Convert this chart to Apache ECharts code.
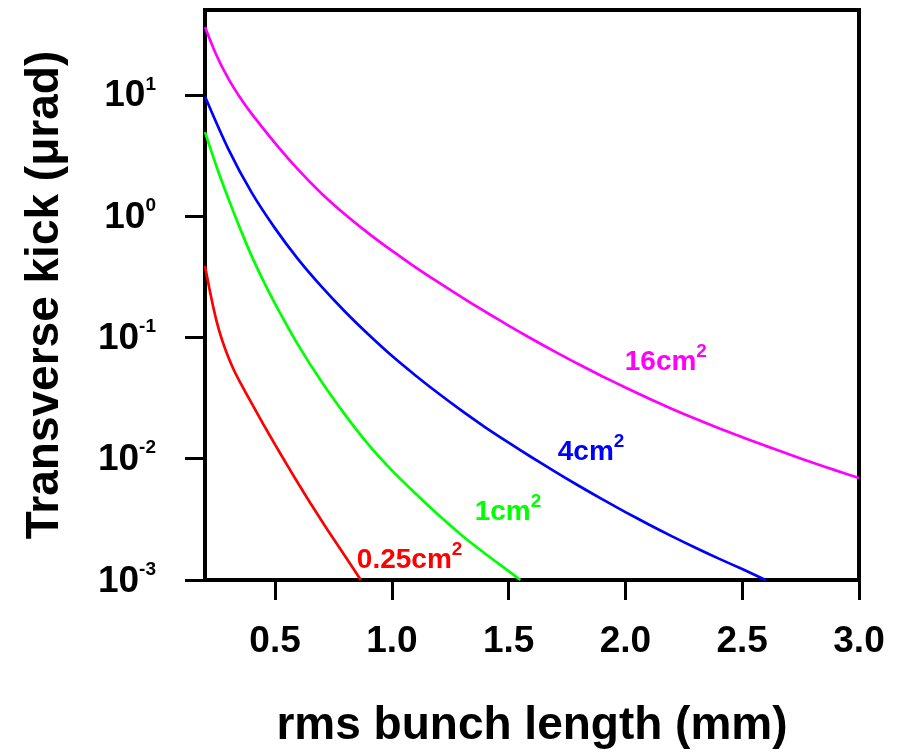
<!DOCTYPE html>
<html>
<head>
<meta charset="utf-8">
<script src="https://cdn.jsdelivr.net/npm/echarts@6/dist/echarts.min.js"></script>
<style>html,body{margin:0;padding:0;background:#fff;}#c{width:902px;height:754px;}</style>
</head>
<body>
<div id="c"></div>
<script>
// ---- data ----
const xTicks = [0.5, 1.0, 1.5, 2.0, 2.5, 3.0];
const yTicks = [0.001, 0.01, 0.1, 1, 10];

const sigma16 = [0.2, 0.25, 0.3, 0.35, 0.4, 0.5, 0.6, 0.7, 0.8, 0.9, 1.0, 1.1, 1.2, 1.3, 1.4, 1.5, 1.6, 1.7, 1.8, 1.9, 2.0, 2.1, 2.2, 2.3, 2.4, 2.5, 2.6, 2.7, 2.8, 2.9, 3.0];
const kick16  = [36.2, 20.96, 13.59, 9.50, 6.97, 4.00, 2.404, 1.530, 1.031, 0.7206, 0.5184, 0.3800, 0.2838, 0.2139, 0.1628, 0.1251, 0.0970, 0.0760, 0.0600, 0.0479, 0.0386, 0.03135, 0.02573, 0.02132, 0.01782, 0.01505, 0.01276, 0.01088, 0.0093, 0.00801, 0.00692];

const sigma4 = [0.2, 0.3, 0.4, 0.5, 0.6, 0.7, 0.8, 0.9, 1.0, 1.1, 1.2, 1.3, 1.4, 1.5, 1.6, 1.7, 1.8, 1.9, 2.0, 2.1, 2.2, 2.3, 2.4, 2.5, 2.6];
const kick4  = [9.68, 3.57, 1.560, 0.792, 0.4375, 0.2607, 0.1628, 0.1056, 0.0705, 0.0488, 0.03445, 0.02478, 0.01816, 0.01357, 0.01023, 0.00779, 0.00598, 0.00464, 0.00363, 0.00287, 0.00229, 0.001844, 0.0015, 0.00123, 0.001];

const sigma1 = [0.2, 0.25, 0.3, 0.35, 0.4, 0.45, 0.5, 0.6, 0.7, 0.8, 0.9, 1.0, 1.1, 1.2, 1.3, 1.4, 1.5, 1.55];
const kick1  = [4.92, 2.54, 1.393, 0.792, 0.4675, 0.2919, 0.1893, 0.0859, 0.0428, 0.023, 0.01306, 0.00801, 0.00519, 0.00343, 0.00233, 0.001647, 0.001185, 0.001];

const sigma025 = [0.2, 0.225, 0.25, 0.275, 0.3, 0.325, 0.35, 0.4, 0.45, 0.5, 0.55, 0.6, 0.65, 0.7, 0.75, 0.8, 0.867];
const kick025  = [0.387, 0.2201, 0.1349, 0.0926, 0.0685, 0.0531, 0.0428, 0.02853, 0.01921, 0.01306, 0.00897, 0.00621, 0.00434, 0.00307, 0.002184, 0.001571, 0.001];

const seriesNames = ['16cm2', '4cm2', '1cm2', '0.25cm2'];
const labelMain = ['16cm', '4cm', '1cm', '0.25cm'];
const labelSup = ['2', '2', '2', '2'];
const labelAt = [[2.173, 0.0659], [1.853, 0.01189], [1.497, 0.00384], [1.076, 0.00153]];
const colors = ['#FF00FF', '#0000FF', '#00FF00', '#FF0000'];

// ---- chart ----
const FONT = '"Liberation Sans", Arial, Helvetica, sans-serif';
const zip = (xs, ys) => xs.map((x, i) => [x, ys[i]]);
const allData = [zip(sigma16, kick16), zip(sigma4, kick4), zip(sigma1, kick1), zip(sigma025, kick025)];

const chart = echarts.init(document.getElementById('c'), null, {renderer: 'canvas'});

const series = allData.map((d, i) => ({
  name: seriesNames[i],
  type: 'line',
  data: d,
  showSymbol: false,
  smooth: 0.3,
  lineStyle: {color: colors[i], width: 2.7},
  itemStyle: {color: colors[i]},
  z: 3,
  markPoint: {
    silent: true,
    symbol: 'circle',
    symbolSize: 0,
    data: [{coord: labelAt[i]}],
    label: {
      show: true,
      position: 'inside',
      formatter: '{m|' + labelMain[i] + '}{s|' + labelSup[i] + '}',
      rich: {
        m: {fontSize: 28, fontWeight: 'bold', fontFamily: FONT, color: colors[i], verticalAlign: 'bottom', lineHeight: 34},
        s: {fontSize: 19, fontWeight: 'bold', fontFamily: FONT, color: colors[i], verticalAlign: 'top', lineHeight: 34}
      }
    }
  }
}));

chart.setOption({
  animation: false,
  backgroundColor: '#fff',
  grid: {left: 205, right: 43, top: 10, bottom: 169, show: true, borderColor: '#000', borderWidth: 4, containLabel: false},
  xAxis: {
    type: 'value', min: 0.2, max: 3.0,
    name: 'rms bunch length (mm)', nameLocation: 'middle', nameGap: 123,
    nameTextStyle: {fontSize: 46, fontWeight: 'bold', fontFamily: FONT, color: '#000'},
    axisLine: {show: true, lineStyle: {color: '#000', width: 4}},
    axisTick: {show: true, inside: false, length: 20, lineStyle: {color: '#000', width: 3}, customValues: xTicks},
    axisLabel: {show: true, margin: 43, fontSize: 37, fontWeight: 'bold', fontFamily: FONT, color: '#000',
      customValues: xTicks, formatter: v => Number(v).toFixed(1)},
    splitLine: {show: false}
  },
  yAxis: {
    type: 'log', logBase: 10, min: 0.001, max: 50,
    name: 'Transverse kick (\u03BCrad)', nameLocation: 'middle', nameGap: 137, nameRotate: 90,
    nameTextStyle: {fontSize: 46, fontWeight: 'bold', fontFamily: FONT, color: '#000'},
    axisLine: {show: true, lineStyle: {color: '#000', width: 4}},
    axisTick: {show: true, inside: false, length: 20, lineStyle: {color: '#000', width: 3}, customValues: yTicks},
    axisLabel: {show: true, margin: 49, customValues: yTicks,
      formatter: v => '{b|10}{s|' + Math.round(Math.log10(v)) + '}',
      rich: {
        b: {fontSize: 37, fontWeight: 'bold', fontFamily: FONT, color: '#000', verticalAlign: 'bottom', lineHeight: 40},
        s: {fontSize: 19, fontWeight: 'bold', fontFamily: FONT, color: '#000', verticalAlign: 'top', lineHeight: 40}
      }
    },
    splitLine: {show: false}
  },
  series: series
});
</script>
</body>
</html>
